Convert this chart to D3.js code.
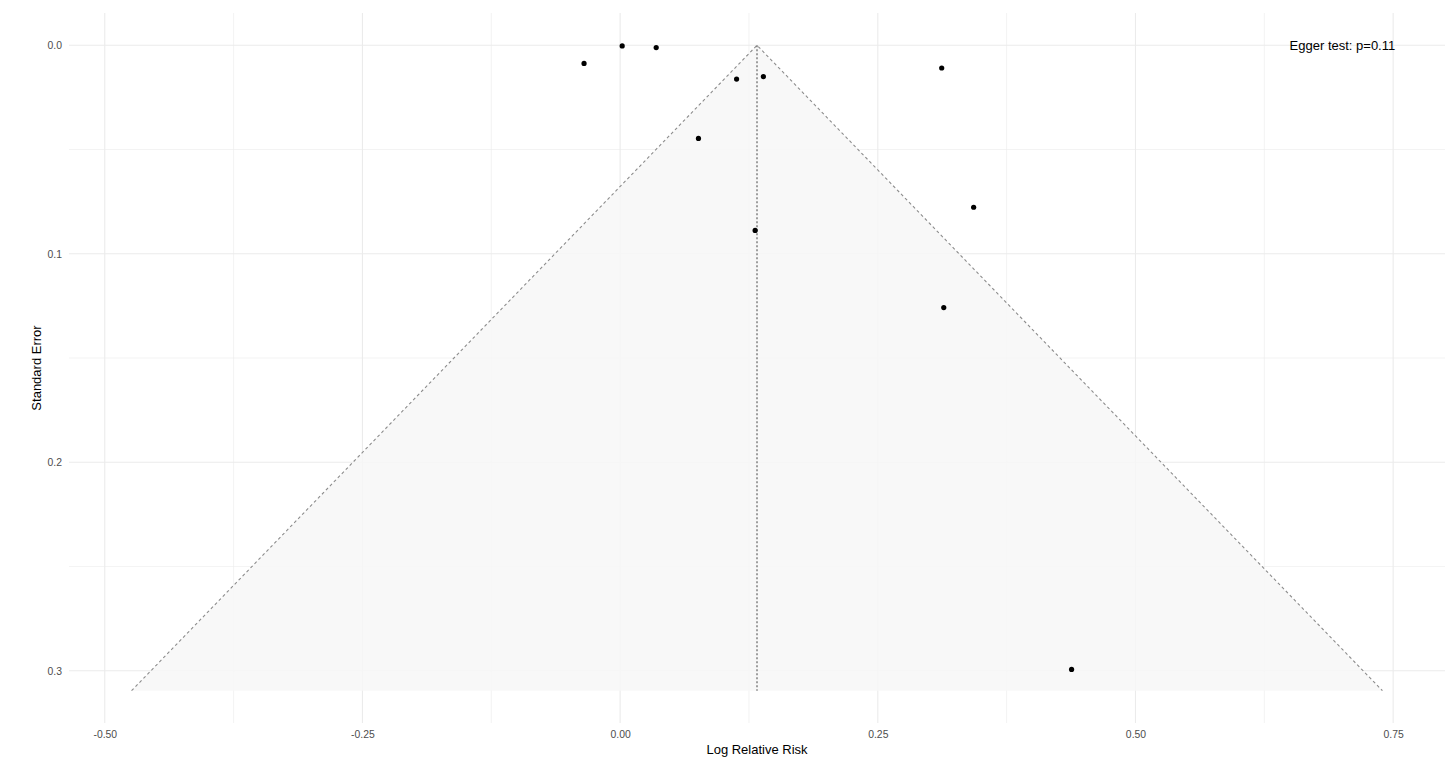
<!DOCTYPE html>
<html>
<head>
<meta charset="utf-8">
<script src="https://cdnjs.cloudflare.com/ajax/libs/d3/7.8.5/d3.min.js"></script>
<style>
  html, body { margin: 0; padding: 0; background: #fff; }
</style>
</head>
<body>
<div id="chart"></div>
<script>
// Study estimates
var logRR = [-0.035, 0.002, 0.035, 0.113, 0.139, 0.312, 0.076, 0.343, 0.131, 0.314, 0.438];
var stdErr = [0.0087, 0.0003, 0.0011, 0.0162, 0.0150, 0.0109, 0.0447, 0.0777, 0.0888, 0.1258, 0.2994];

// Pooled estimate and funnel depth
var pooled = [0.1328];
var funnelSe = [0.3096];

// Tick labels
var xTicks = [-0.50, -0.25, 0.00, 0.25, 0.50, 0.75];
var xMinorTicks = [-0.375, -0.125, 0.125, 0.375, 0.625];
var yTicks = [0.0, 0.1, 0.2, 0.3];
var yMinorTicks = [0.05, 0.15, 0.25];

var eggerLabel = ["Egger test: p=0.11"];

function FunnelPlot() {
    // Exposed variables
    var attrs = {
        svgWidth: 1448,
        svgHeight: 758,
        marginTop: 13,
        marginBottom: 35,
        marginRight: 3,
        marginLeft: 69,
        container: '#chart',
        defaultFont: '"Liberation Sans", Arial, Helvetica, sans-serif',
        gridColor: '#ebebeb',
        tickColor: '#4d4d4d',
        funnelFill: '#f7f7f7',
        funnelStroke: '#8c8c8c',
        pooledStroke: '#555555'
    };

    var main = function () {
        var container = d3.select(attrs.container);

        //Calculated properties
        var calc = {};
        calc.chartWidth = attrs.svgWidth - attrs.marginLeft - attrs.marginRight;
        calc.chartHeight = attrs.svgHeight - attrs.marginTop - attrs.marginBottom;
        calc.z = 1.96;
        calc.center = pooled[0];
        calc.depth = funnelSe[0];

        /*################################## SCALES ####################################### */
        // data range of the funnel, expanded 5% like ggplot does
        var xMin = calc.center - calc.z * calc.depth,
            xMax = calc.center + calc.z * calc.depth,
            xPad = (xMax - xMin) * 0.05,
            yPad = calc.depth * 0.05;

        var x = d3.scaleLinear()
            .domain([xMin - xPad, xMax + xPad])
            .range([0, calc.chartWidth]);

        var y = d3.scaleLinear()
            .domain([0 - yPad, calc.depth + yPad])
            .range([0, calc.chartHeight]);

        //################################ DRAWING ######################
        var svg = container.append('svg')
            .attr('width', attrs.svgWidth)
            .attr('height', attrs.svgHeight)
            .attr('font-family', attrs.defaultFont);

        var chart = svg.append('g')
            .attr('transform', 'translate(' + attrs.marginLeft + ',' + attrs.marginTop + ')');

        // grid
        var grid = chart.append('g').attr('class', 'grid');

        grid.selectAll('.x-minor').data(xMinorTicks).enter().append('line')
            .attr('x1', d => x(d)).attr('x2', d => x(d))
            .attr('y1', 0).attr('y2', calc.chartHeight)
            .attr('stroke', attrs.gridColor).attr('stroke-width', 0.6);

        grid.selectAll('.y-minor').data(yMinorTicks).enter().append('line')
            .attr('y1', d => y(d)).attr('y2', d => y(d))
            .attr('x1', 0).attr('x2', calc.chartWidth)
            .attr('stroke', attrs.gridColor).attr('stroke-width', 0.6);

        grid.selectAll('.x-major').data(xTicks).enter().append('line')
            .attr('x1', d => x(d)).attr('x2', d => x(d))
            .attr('y1', 0).attr('y2', calc.chartHeight)
            .attr('stroke', attrs.gridColor).attr('stroke-width', 1.1);

        grid.selectAll('.y-major').data(yTicks).enter().append('line')
            .attr('y1', d => y(d)).attr('y2', d => y(d))
            .attr('x1', 0).attr('x2', calc.chartWidth)
            .attr('stroke', attrs.gridColor).attr('stroke-width', 1.1);

        // funnel region
        var apex = [calc.center, 0],
            left = [xMin, calc.depth],
            right = [xMax, calc.depth];

        var line = d3.line()
            .x(d => x(d[0]))
            .y(d => y(d[1]));

        chart.append('path')
            .attr('d', line([apex, left, right]) + 'Z')
            .attr('fill', attrs.funnelFill)
            .attr('fill-opacity', 0.85);

        chart.append('path')
            .attr('d', line([left, apex, right]))
            .attr('fill', 'none')
            .attr('stroke', attrs.funnelStroke)
            .attr('stroke-width', 1.1)
            .attr('stroke-dasharray', '3,2.7');

        chart.append('line')
            .attr('x1', x(calc.center)).attr('x2', x(calc.center))
            .attr('y1', y(0)).attr('y2', y(calc.depth))
            .attr('stroke', attrs.pooledStroke)
            .attr('stroke-width', 1.1)
            .attr('stroke-dasharray', '2,2');

        // study points
        chart.selectAll('.study').data(logRR).enter().append('circle')
            .attr('class', 'study')
            .attr('cx', d => x(d))
            .attr('cy', (d, i) => y(stdErr[i]))
            .attr('r', 2.6)
            .attr('fill', '#000');

        // Egger annotation
        chart.append('text')
            .attr('x', x(0.752))
            .attr('y', y(0))
            .attr('dy', '0.35em')
            .attr('text-anchor', 'end')
            .attr('font-size', 13)
            .attr('fill', '#000')
            .text(eggerLabel[0]);

        // axes
        var xAxis = chart.append('g')
            .attr('transform', 'translate(0,' + calc.chartHeight + ')')
            .call(d3.axisBottom(x).tickValues(xTicks).tickSize(0).tickPadding(8)
                .tickFormat(d => d3.format('.2f')(d).replace('\u2212', '-')));

        var yAxis = chart.append('g')
            .call(d3.axisLeft(y).tickValues(yTicks).tickSize(0).tickPadding(7)
                .tickFormat(d3.format('.1f')));

        [xAxis, yAxis].forEach(function (ax) {
            ax.select('.domain').remove();
            ax.selectAll('text')
                .attr('font-family', attrs.defaultFont)
                .attr('font-size', 10.4)
                .attr('fill', attrs.tickColor);
        });

        // axis titles
        svg.append('text')
            .attr('x', attrs.marginLeft + calc.chartWidth / 2)
            .attr('y', attrs.svgHeight - 4)
            .attr('text-anchor', 'middle')
            .attr('font-size', 13)
            .attr('fill', '#000')
            .text('Log Relative Risk');

        svg.append('text')
            .attr('transform', 'translate(' + 41 + ',' + (attrs.marginTop + calc.chartHeight / 2) + ') rotate(-90)')
            .attr('text-anchor', 'middle')
            .attr('font-size', 13)
            .attr('fill', '#000')
            .text('Standard Error');
    };

    main.run = function () {
        main();
        return main;
    };

    return main;
}

FunnelPlot().run();
</script>
</body>
</html>
